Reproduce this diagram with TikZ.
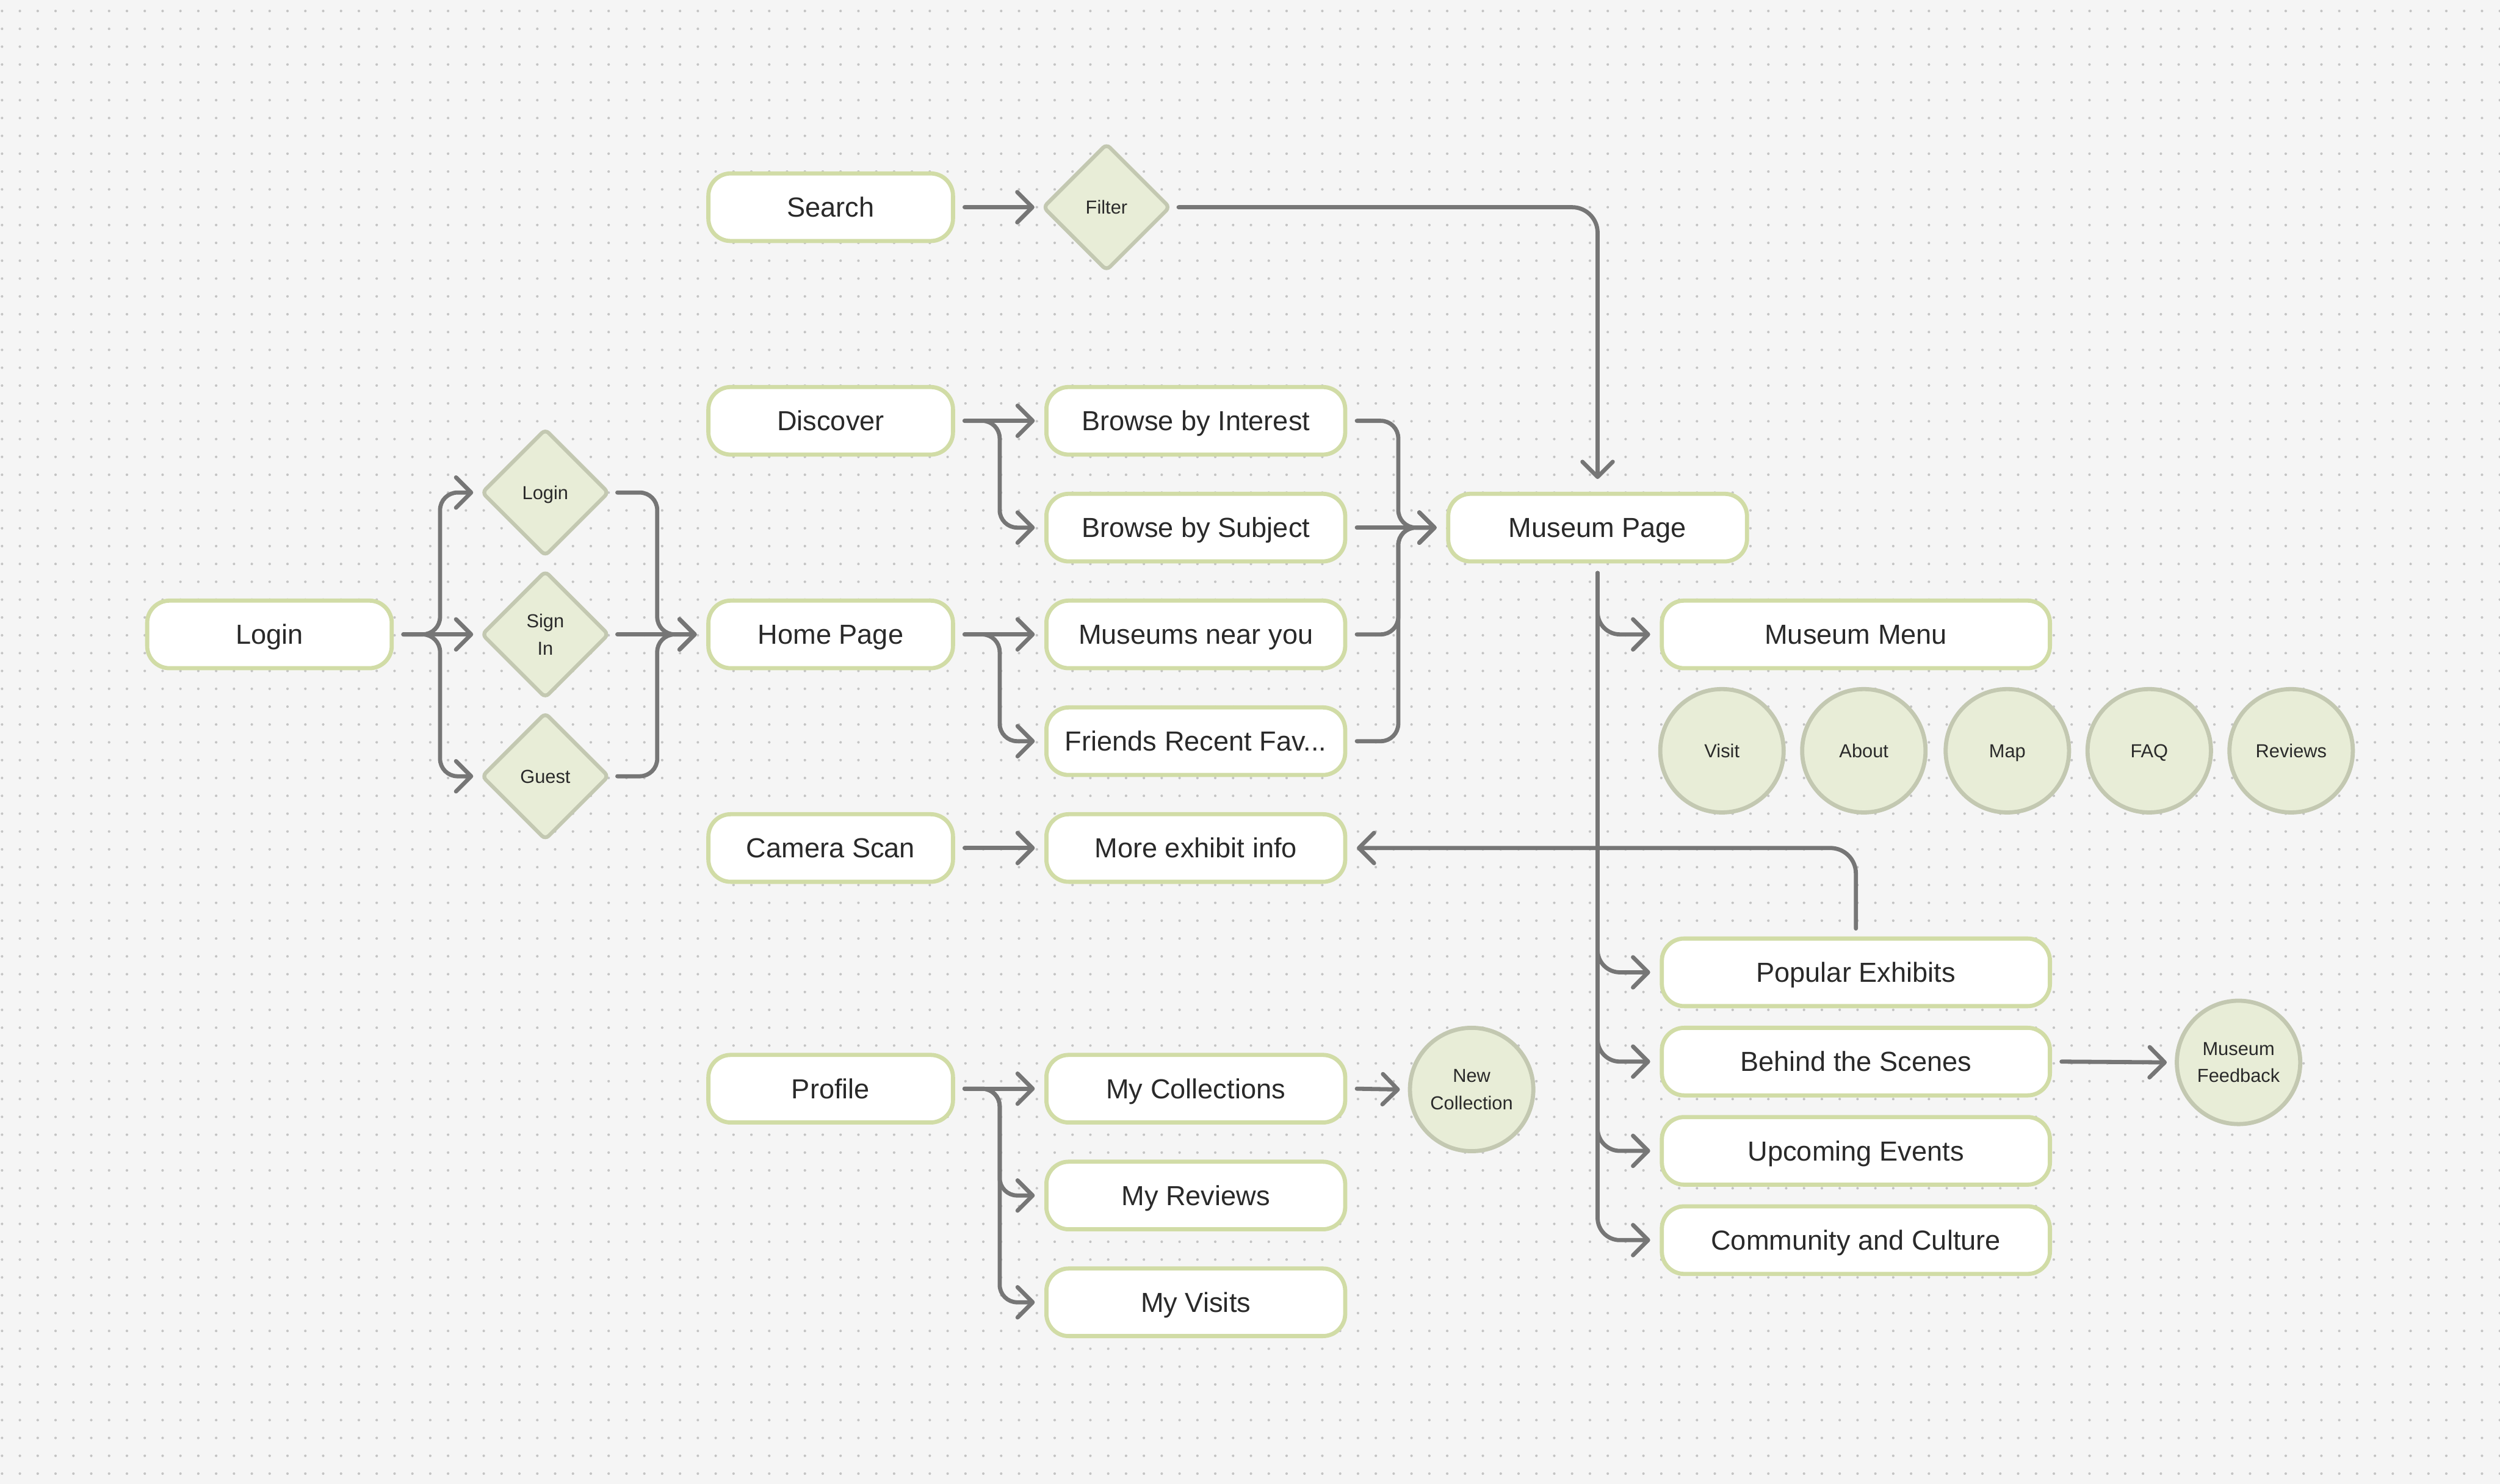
\documentclass[tikz,border=0pt]{standalone}
\usepackage{fontspec}
\setmainfont{Liberation Sans}
\usetikzlibrary{arrows.meta,shapes.geometric}
\definecolor{bgc}{HTML}{F5F5F5}
\definecolor{dotc}{HTML}{C4C4C4}
\definecolor{boxline}{HTML}{D1DCA6}
\definecolor{diafill}{HTML}{E8EDD7}
\definecolor{diaedge}{HTML}{C3C8B1}
\definecolor{linec}{HTML}{767676}
\definecolor{txt}{HTML}{2A2A2A}
\newcommand{\nodefontbig}{\fontsize{17.3}{20}\selectfont}
\newcommand{\nodefontsmall}{\fontsize{11.8}{17}\selectfont}
\begin{document}
\begin{tikzpicture}[x=1pt,y=-1pt,
  box/.style={draw=boxline, line width=2.6pt, fill=white, rounded corners=14pt,
    minimum width=153.4pt, minimum height=42.4pt, inner sep=0pt, font=\nodefontbig, text=txt,
    text height=12.4pt, text depth=0pt},
  wbox/.style={box, minimum width=187.4pt},
  xbox/.style={box, minimum width=243.4pt},
  dia/.style={diamond, draw=diaedge, fill=diafill, line width=2.4pt, minimum width=80pt,
    minimum height=80pt, inner sep=0pt, rounded corners=3pt, font=\nodefontsmall, text=txt, align=center},
  circ/.style={circle, draw=diaedge, fill=diafill, line width=2.6pt, minimum size=77.4pt,
    inner sep=0pt, font=\nodefontsmall, text=txt, align=center},
  oneline/.style={text height=8.5pt, text depth=0pt},
  conn/.style={draw=linec, line width=2.6pt, line cap=round, line join=round,
    -{Straight Barb[length=9.5pt,width=19pt,round]}, rounded corners=11pt},
  bigr/.style={rounded corners=16pt}
]
\fill[bgc] (0,0) rectangle (1568,931);
\useasboundingbox (0,0) rectangle (1568,931);
\foreach \r in {0,...,82} {
  \draw[dotc, line width=1.6pt, line cap=round, dash pattern=on 0pt off 11.19pt]
    (1.28,{6.9+11.19*\r}) -- (1568,{6.9+11.19*\r});
}

% nodes
\node[box] (login) at (169,398) {Login};
\node[dia,oneline] (dl) at (342,309) {Login};
\node[dia] (ds) at (342,398) {Sign\\In};
\node[dia,oneline] (dg) at (342,487) {Guest};
\node[box] (search) at (521,130) {Search};
\node[dia,oneline] (filter) at (694,130) {Filter};
\node[box] (discover) at (521,264) {Discover};
\node[box] (home) at (521,398) {Home Page};
\node[box] (camera) at (521,532) {Camera Scan};
\node[box] (profile) at (521,683) {Profile};
\node[wbox] (bbi) at (750,264) {Browse by Interest};
\node[wbox] (bbs) at (750,331) {Browse by Subject};
\node[wbox] (mny) at (750,398) {Museums near you};
\node[wbox] (frf) at (750,465) {Friends Recent Fav...};
\node[wbox] (mei) at (750,532) {More exhibit info};
\node[wbox] (myc) at (750,683) {My Collections};
\node[wbox] (myr) at (750,750) {My Reviews};
\node[wbox] (myv) at (750,817) {My Visits};
\node[circ] (newc) at (923,683.5) {New\\Collection};
\node[wbox] (mp) at (1002,331) {Museum Page};
\node[xbox] (mm) at (1164,398) {Museum Menu};
\node[circ,oneline] (visit) at (1080,471) {Visit};
\node[circ,oneline] (about) at (1169,471) {About};
\node[circ,oneline] (map) at (1259,471) {Map};
\node[circ,oneline] (faq) at (1348,471) {FAQ};
\node[circ,oneline] (reviews) at (1437,471) {Reviews};
\node[xbox] (pe) at (1164,610) {Popular Exhibits};
\node[xbox] (bts) at (1164,666) {Behind the Scenes};
\node[xbox] (ue) at (1164,722) {Upcoming Events};
\node[xbox] (cc) at (1164,778) {Community and Culture};
\node[circ] (mf) at (1404,666.5) {Museum\\Feedback};

% connectors: login to choices
\draw[conn] ([xshift=6pt]login.east) -- ++(23,0) |- ([xshift=-4pt]dl.west);
\draw[conn] ([xshift=6pt]login.east) -- ([xshift=-4pt]ds.west);
\draw[conn] ([xshift=6pt]login.east) -- ++(23,0) |- ([xshift=-4pt]dg.west);
% choices to home
\draw[conn] ([xshift=4pt]dl.east) -- ++(25,0) |- ([xshift=-6pt]home.west);
\draw[conn] ([xshift=4pt]ds.east) -- ([xshift=-6pt]home.west);
\draw[conn] ([xshift=4pt]dg.east) -- ++(25,0) |- ([xshift=-6pt]home.west);
% search / filter
\draw[conn] ([xshift=6pt]search.east) -- ([xshift=-4pt]filter.west);
\draw[conn,bigr] ([xshift=4pt]filter.east) -| ([yshift=8pt]mp.north);
% discover
\draw[conn] ([xshift=6pt]discover.east) -- ([xshift=-6pt]bbi.west);
\draw[conn] ([xshift=6pt]discover.east) -- ++(22,0) |- ([xshift=-6pt]bbs.west);
% home
\draw[conn] ([xshift=6pt]home.east) -- ([xshift=-6pt]mny.west);
\draw[conn] ([xshift=6pt]home.east) -- ++(22,0) |- ([xshift=-6pt]frf.west);
% camera
\draw[conn] ([xshift=6pt]camera.east) -- ([xshift=-6pt]mei.west);
% profile
\draw[conn] ([xshift=6pt]profile.east) -- ([xshift=-6pt]myc.west);
\draw[conn] ([xshift=6pt]profile.east) -- ++(22,0) |- ([xshift=-6pt]myr.west);
\draw[conn] ([xshift=6pt]profile.east) -- ++(22,0) |- ([xshift=-6pt]myv.west);
\draw[conn] ([xshift=6pt]myc.east) -- ([xshift=-5pt]newc.west);
% to museum page
\draw[conn] ([xshift=6pt]bbi.east) -- ++(26,0) |- ([xshift=-6pt]mp.west);
\draw[conn] ([xshift=6pt]bbs.east) -- ([xshift=-6pt]mp.west);
\draw[conn] ([xshift=6pt]mny.east) -- ++(26,0) |- ([xshift=-6pt]mp.west);
\draw[conn] ([xshift=6pt]frf.east) -- ++(26,0) |- ([xshift=-6pt]mp.west);
% museum page branches
\draw[conn,rounded corners=14pt] ([yshift=-6pt]mp.south) |- ([xshift=-6pt]mm.west);
\draw[conn,rounded corners=14pt] ([yshift=-6pt]mp.south) |- ([xshift=-6pt]pe.west);
\draw[conn,rounded corners=14pt] ([yshift=-6pt]mp.south) |- ([xshift=-6pt]bts.west);
\draw[conn,rounded corners=14pt] ([yshift=-6pt]mp.south) |- ([xshift=-6pt]ue.west);
\draw[conn,rounded corners=14pt] ([yshift=-6pt]mp.south) |- ([xshift=-6pt]cc.west);
% popular exhibits back to more exhibit info
\draw[conn,bigr] ([yshift=5pt]pe.north) |- ([xshift=6pt]mei.east);
% behind the scenes to feedback
\draw[conn] ([xshift=6pt]bts.east) -- ([xshift=-5pt]mf.west);
\end{tikzpicture}
\end{document}
